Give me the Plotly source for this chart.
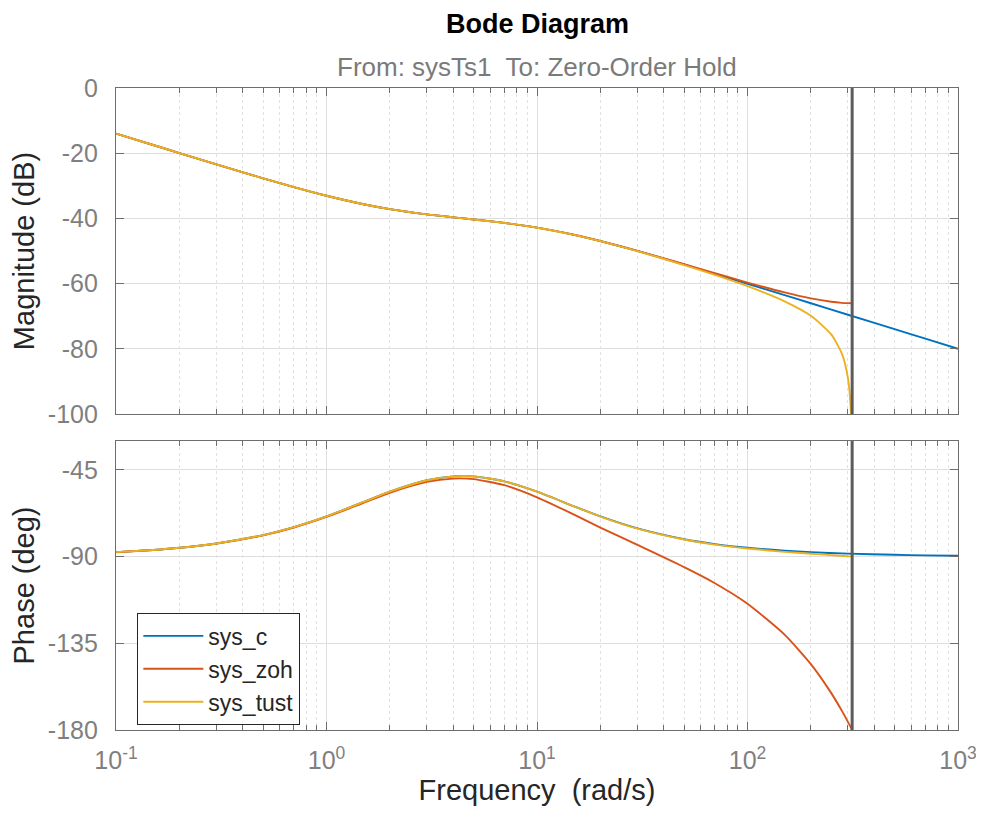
import plotly.graph_objects as go

# ---------------- data ----------------
freq_c = [0.1, 0.15, 0.2, 0.3, 0.5, 0.7, 1, 1.5, 2, 3, 4, 5, 7, 10, 15, 20, 30, 50, 70,
          100, 150, 200, 300, 500, 700, 1000]
mag_c = [-13.97, -17.48, -19.96, -23.43, -27.71, -30.40, -33.05, -35.66, -37.16, -38.78,
         -39.68, -40.32, -41.39, -42.84, -45.04, -46.95, -49.98, -54.14, -56.99,
         -60.04, -63.54, -66.03, -69.55, -73.98, -76.90, -80.00]
phase_c = [-87.71, -86.57, -85.43, -83.19, -78.83, -74.71, -69.15, -61.66, -56.31, -50.39,
           -48.37, -48.37, -50.94, -56.31, -63.91, -69.15, -75.38, -80.98, -83.51,
           -85.43, -86.95, -87.71, -88.47, -89.08, -89.35, -89.54]

freq_zoh = [0.1, 0.15, 0.2, 0.3, 0.5, 0.7, 1, 1.5, 2, 3, 4, 5, 7, 10, 15, 20, 30, 50, 70,
            100, 150, 200, 250, 280, 300, 314.16]
mag_zoh = [-13.97, -17.48, -19.96, -23.43, -27.71, -30.40, -33.05, -35.66, -37.16, -38.78,
           -39.68, -40.32, -41.39, -42.83, -45.03, -46.93, -49.95, -54.05, -56.81,
           -59.68, -62.71, -64.53, -65.57, -65.90, -66.00, -66.02]
phase_zoh = [-87.74, -86.61, -85.49, -83.28, -78.97, -74.91, -69.44, -62.09, -56.88, -51.25,
             -49.52, -49.80, -52.95, -59.21, -68.21, -74.95, -83.97, -95.50, -103.83,
             -114.47, -130.52, -145.83, -160.86, -169.82, -175.78, -180.0]

freq_tust = [0.1, 0.15, 0.2, 0.3, 0.5, 0.7, 1, 1.5, 2, 3, 4, 5, 7, 10, 15, 20, 30, 50, 70,
             100, 150, 200, 250, 280, 290, 300, 305, 310, 312, 313]
mag_tust = [-13.97, -17.48, -19.96, -23.43, -27.71, -30.40, -33.05, -35.66, -37.16, -38.78,
            -39.68, -40.32, -41.39, -42.85, -45.05, -46.98, -50.04, -54.32, -57.34,
            -60.80, -65.42, -69.87, -75.59, -81.29, -84.34, -89.01, -92.80, -99.66,
            -105.35, -110.76]
phase_tust = [-87.71, -86.57, -85.43, -83.19, -78.83, -74.71, -69.15, -61.66, -56.31, -50.39,
              -48.37, -48.37, -50.94, -56.32, -63.95, -69.21, -75.48, -81.16, -83.77,
              -85.82, -87.54, -88.53, -89.24, -89.61, -89.72, -89.84, -89.90, -89.95,
              -89.97, -89.98]

nyquist_freq = 314.16

series_names = ["sys_c", "sys_zoh", "sys_tust"]
series_colors = ["#0072BD", "#D95319", "#EDB120"]

x_tickvals = [0.1, 1, 10, 100, 1000]
x_ticktext = ["10<sup>-1</sup>", "10<sup>0</sup>", "10<sup>1</sup>", "10<sup>2</sup>", "10<sup>3</sup>"]
mag_tickvals = [-100, -80, -60, -40, -20, 0]
mag_ticktext = ["-100", "-80", "-60", "-40", "-20", "0"]
phase_tickvals = [-180, -135, -90, -45]
phase_ticktext = ["-180", "-135", "-90", "-45"]

# ---------------- figure ----------------
FONT = "Liberation Sans, Arial, Helvetica, sans-serif"
AX = "#6e6e6e"
TICKC = "#7f7f7f"
minor_vals = [m * 10.0 ** e for e in range(-1, 3) for m in range(2, 10)]

fig = go.Figure()

data = [
    (freq_c, mag_c, phase_c),
    (freq_zoh, mag_zoh, phase_zoh),
    (freq_tust, mag_tust, phase_tust),
]
for (f, m, p), name, col in zip(data, series_names, series_colors):
    fig.add_trace(go.Scatter(x=f, y=m, mode="lines", name=name, legendgroup=name,
                             showlegend=False, line=dict(color=col, width=1.9, shape="spline",
                                                         smoothing=0.6),
                             xaxis="x", yaxis="y"))
for (f, m, p), name, col in zip(data, series_names, series_colors):
    fig.add_trace(go.Scatter(x=f, y=p, mode="lines", name=name, legendgroup=name,
                             showlegend=True, line=dict(color=col, width=1.9, shape="spline",
                                                        smoothing=0.6),
                             xaxis="x2", yaxis="y2"))

# Nyquist frequency markers
fig.add_trace(go.Scatter(x=[nyquist_freq, nyquist_freq], y=[-100, 0], mode="lines",
                         line=dict(color="#5c5c5c", width=3), showlegend=False,
                         hoverinfo="skip", xaxis="x", yaxis="y"))
fig.add_trace(go.Scatter(x=[nyquist_freq, nyquist_freq], y=[-180, -30], mode="lines",
                         line=dict(color="#5c5c5c", width=3), showlegend=False,
                         hoverinfo="skip", xaxis="x2", yaxis="y2"))

xcommon = dict(
    type="log", range=[-1, 3], tickmode="array", tickvals=x_tickvals, ticktext=x_ticktext,
    ticks="inside", ticklen=8, tickcolor=AX, linecolor=AX, linewidth=1.2, mirror="ticks",
    showline=True, showgrid=True, gridcolor="#dedede", gridwidth=1, zeroline=False,
    automargin=False,
    minor=dict(tickmode="array", tickvals=minor_vals, ticks="inside", ticklen=5,
               tickcolor=AX, showgrid=True, gridcolor="#e2e2e2", griddash="dot", gridwidth=1),
    tickfont=dict(family=FONT, size=25, color=TICKC),
)
ycommon = dict(
    ticks="inside", ticklen=8, tickcolor=AX, linecolor=AX, linewidth=1.2, mirror="ticks",
    showline=True, showgrid=True, gridcolor="#dedede", gridwidth=1, zeroline=False,
    automargin=False,
    tickfont=dict(family=FONT, size=25, color=TICKC), tickmode="array",
    ticklabelstandoff=12,
)

# page body adds an 8px offset, so the figure is sized 8px smaller
fig.update_layout(
    width=976, height=814,
    margin=dict(l=108, r=26, t=80, b=92, autoexpand=False),
    paper_bgcolor="white", plot_bgcolor="white",
    font=dict(family=FONT, color="#262626"),
    showlegend=True,
    legend=dict(x=0.025, y=0.182, xanchor="left", yanchor="top",
                bgcolor="white", bordercolor="#262626", borderwidth=1.3,
                font=dict(family=FONT, size=23, color="#262626"),
                tracegroupgap=0, itemwidth=60),
    xaxis=dict(xcommon, domain=[0, 1], anchor="y", showticklabels=False, matches="x2"),
    xaxis2=dict(xcommon, domain=[0, 1], anchor="y2", ticklabelstandoff=8,
                title=dict(text="Frequency  (rad/s)", font=dict(family=FONT, size=29, color="#262626"),
                           standoff=6)),
    yaxis=dict(ycommon, domain=[0.4922, 1], anchor="x", range=[-100, 0],
               tickvals=mag_tickvals, ticktext=mag_ticktext,
               title=dict(text="Magnitude (dB)", font=dict(family=FONT, size=29, color="#262626"),
                          standoff=6)),
    yaxis2=dict(ycommon, domain=[0, 0.4502], anchor="x2", range=[-180, -30],
                tickvals=phase_tickvals, ticktext=phase_ticktext,
                title=dict(text="Phase (deg)", font=dict(family=FONT, size=29, color="#262626"),
                           standoff=6)),
    annotations=[
        dict(text="<b>Bode Diagram</b>", xref="paper", yref="paper", x=0.5, y=1.0995,
             xanchor="center", yanchor="middle", showarrow=False,
             font=dict(family=FONT, size=27, color="#000000")),
        dict(text="From: sysTs1  To: Zero-Order Hold", xref="paper", yref="paper", x=0.5,
             y=1.0327, xanchor="center", yanchor="middle", showarrow=False,
             font=dict(family=FONT, size=26, color="#7a7a7a")),
    ],
)

fig.write_html("out.html")
